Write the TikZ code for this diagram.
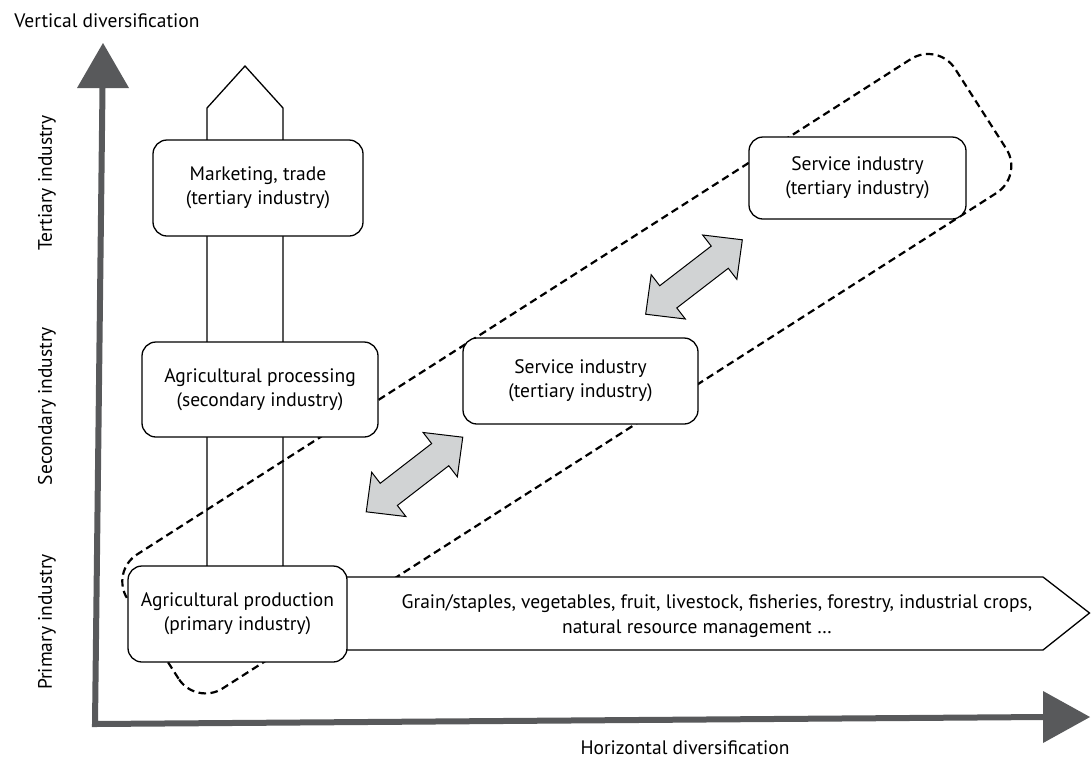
\documentclass[tikz,border=0pt]{standalone}
\usepackage{fontspec}
\setmainfont{PT Sans}
\usetikzlibrary{calc}
\definecolor{axisgray}{HTML}{58595B}
\definecolor{arrowfill}{HTML}{D1D3D4}
\begin{document}
\begin{tikzpicture}[x=1pt,y=-1pt,
  lbl/.style={font=\fontsize{19.5}{24}\selectfont, inner sep=0pt},
  box/.style={draw=black, line width=1.3pt, fill=white, rounded corners=14pt,
    align=center, font=\fontsize{19.5}{24}\selectfont, inner sep=0pt},
  frame/.style={draw=black, line width=1.3pt},
  zone/.style={draw=black, line width=2.2pt, dash pattern=on 7.5pt off 4.5pt, rounded corners=32pt},
  blockarrow/.style={draw=black, line width=1pt, fill=arrowfill, line join=miter},
  axisline/.style={draw=axisgray, line width=6pt},
  axishead/.style={fill=axisgray, draw=none}
]
\useasboundingbox (0,0) rectangle (1091,761);

% dashed zone
\coordinate (zA) at (195.8,705.6);
\coordinate (zB) at (110.1,571.7);
\coordinate (zC) at (937.8,41.8);
\coordinate (zD) at (1023.5,175.7);
\draw[zone] (zA) -- (zB) -- (zC) -- (zD) -- cycle;

% vertical column arrow
\draw[frame, line join=miter] (207,580) -- (207,108) -- (245,66) -- (283,108) -- (283,580);

% horizontal pentagon
\draw[frame, fill=white, line join=miter] (340,577) -- (1043,577) -- (1089.5,613) -- (1043,650) -- (340,650);
\node[lbl] (hortext1) at (717,604) {Grain/staples, vegetables, fruit, livestock, fisheries, forestry, industrial crops,};
\node[lbl] (hortext2) at (697,629) {natural resource management …};

% boxes
\node[box, minimum width=210pt, minimum height=96pt] (market) at (258,188) {Marketing, trade\\(tertiary industry)};
\node[box, minimum width=236pt, minimum height=95pt] (process) at (260,389.5) {Agricultural processing\\(secondary industry)};
\node[box, minimum width=219pt, minimum height=96pt] (produce) at (237.5,614) {Agricultural production\\(primary industry)};
\node[box, minimum width=235pt, minimum height=86pt] (servmid) at (580.5,381) {Service industry\\(tertiary industry)};
\node[box, minimum width=217pt, minimum height=82pt] (servtop) at (857.5,178) {Service industry\\(tertiary industry)};

% block arrows
\begin{scope}[shift={(414.5,474.5)}, rotate=37.7]
\draw[blockarrow] (-61,0) -- (-32.5,28) -- (-32.5,14) -- (32.5,14) -- (32.5,28) -- (61,0)
  -- (32.5,-28) -- (32.5,-14) -- (-32.5,-14) -- (-32.5,-28) -- cycle;
\end{scope}
\begin{scope}[shift={(694,277)}, rotate=37.6]
\draw[blockarrow] (-61,0) -- (-32.5,28) -- (-32.5,14) -- (32.5,14) -- (32.5,28) -- (61,0)
  -- (32.5,-28) -- (32.5,-14) -- (-32.5,-14) -- (-32.5,-28) -- cycle;
\end{scope}

% axes
\coordinate (O) at (95,724);
\coordinate (vtop) at (102.5,88);
\coordinate (hend) at (1043,717);
\draw[axisline] (vtop) -- (O) -- (hend);
\fill[axishead] (103,43) -- (129,88) -- (77,88) -- cycle;
\fill[axishead] (1090,717) -- (1043,743) -- (1043,691) -- cycle;

% axis labels
\node[lbl] (vlabel) at (107,21) {Vertical diversification};
\node[lbl] (hlabel) at (685,748) {Horizontal diversification};
\node[lbl, rotate=90] (tert) at (47,183) {Tertiary industry};
\node[lbl, rotate=90] (sec) at (47,406) {Secondary industry};
\node[lbl, rotate=90] (prim) at (47,622) {Primary industry};
\end{tikzpicture}
\end{document}
